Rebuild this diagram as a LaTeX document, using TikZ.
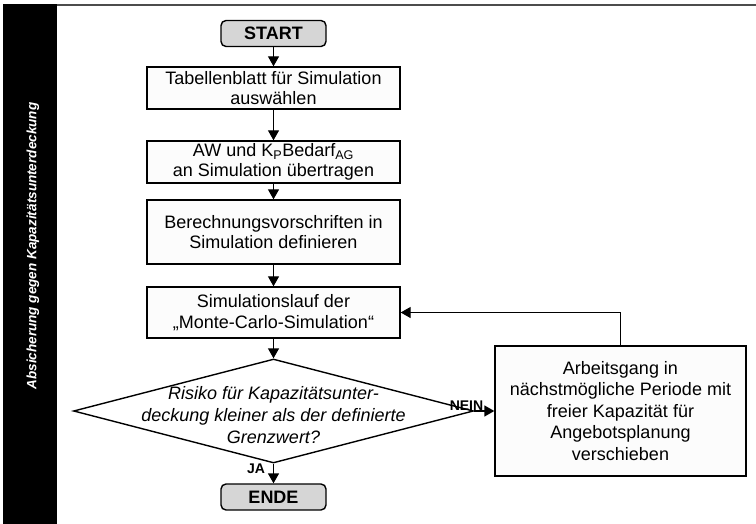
\documentclass[tikz,border=0pt]{standalone}
\usepackage{fontspec}
\setmainfont{Liberation Sans}
\usetikzlibrary{shapes.geometric,arrows.meta}
\begin{document}
\begin{tikzpicture}[x=1pt,y=-1pt,
  every node/.style={font=\fontsize{18}{20.5}\selectfont, inner sep=0pt, align=center},
  proc/.style={draw, line width=1.4pt, fill=black!1, minimum width=253pt},
  term/.style={draw, line width=1.4pt, fill=black!16, rounded corners=5pt,
    minimum width=105pt, minimum height=26pt, font=\fontsize{18}{20}\selectfont\bfseries},
  decision/.style={draw, diamond, line width=1.4pt, fill=white,
    minimum width=400pt, minimum height=104pt},
  flow/.style={line width=1.4pt, -{Triangle[length=10pt,width=11pt]}},
  tag/.style={font=\fontsize{14}{16}\selectfont\bfseries}
]
\useasboundingbox (0,0) rectangle (756,524);

% side bar and top rule
\fill[black] (3,4) rectangle (57,524);
\draw[line width=2pt, black!70] (57,5) -- (756,5);
\node[rotate=90, text=white, font=\fontsize{13.5}{15}\selectfont\bfseries\itshape]
  (side) at (33,246) {Absicherung gegen Kapazitätsunterdeckung};

% main column
\node[term] (start) at (273.5,33.5) {START};
\node[proc, minimum height=42pt] (b1) at (273.5,88)
  {Tabellenblatt für Simulation\\auswählen};
\node[proc, minimum height=42pt] (b2) at (273.5,162)
  {AW und K\textsubscript{P}Bedarf\textsubscript{AG}\\an Simulation übertragen};
\node[proc, minimum height=64pt] (b3) at (273.5,232)
  {Berechnungsvorschriften in\\Simulation definieren};
\node[proc, minimum height=51pt] (b4) at (273.5,312.5)
  {Simulationslauf der\\„Monte-Carlo-Simulation“};
\node[decision] (dec) at (273.5,411) {};
\node[font=\fontsize{18}{22}\selectfont\itshape] (dectext) at (273.5,415)
  {Risiko für Kapazitätsunter-\\deckung kleiner als der definierte\\Grenzwert?};
\node[term] (ende) at (273.5,497) {ENDE};

% side branch
\node[proc, minimum width=251pt, minimum height=130pt,
  font=\fontsize{18}{21.5}\selectfont] (b5) at (620.5,411)
  {Arbeitsgang in\\nächstmögliche Periode mit\\freier Kapazität für\\Angebotsplanung\\verschieben};

% connectors
\draw[flow] (start) -- (b1);
\draw[flow] (b1) -- (b2);
\draw[flow] (b2) -- (b3);
\draw[flow] (b3) -- (b4);
\draw[flow] (b4) -- (dec.north);
\draw[flow] (dec.south) -- (ende);
\draw[flow] (dec.east) -- (b5.west);
\draw[flow] (b5.north) |- (b4.east);

% branch labels
\node[tag] (ja) at (256,469) {JA};
\node[tag] (nein) at (466.5,406) {NEIN};
\end{tikzpicture}
\end{document}
